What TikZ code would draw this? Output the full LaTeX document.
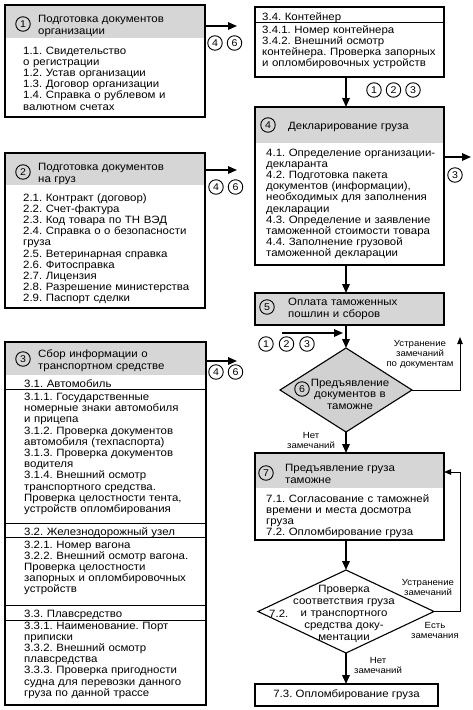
\documentclass[tikz,border=0pt]{standalone}
\usepackage{fontspec}
\setmainfont{Liberation Sans}[FakeStretch=1.08]
\frenchspacing
\usetikzlibrary{
  arrows.meta,
  positioning,
  shapes.geometric,
}
\tikzset{
  x=1pt,
  y=-1pt,
  node distance=5pt,
  >={Triangle[length=9pt, width=7.5pt]},
  panel/.style={draw, line width=1.1pt, anchor=north west, inner sep=0pt, outer sep=0pt},
  hd/.style={fill=black!16, anchor=north west, inner sep=0pt, outer sep=0pt},
  txt/.style={anchor=base west, inner sep=0pt, align=left, text width=200pt},
  hdtxt/.style={txt, font=\fontsize{10.6}{12}\selectfont},
  num/.style={circle, draw, line width=0.9pt, minimum size=14.5pt,
    inner sep=0pt, outer sep=0pt, font=\fontsize{9.8}{10}\selectfont},
  ask/.style={diamond, draw, line width=1.1pt, inner sep=0pt, outer sep=0pt},
  asktxt/.style={anchor=base, inner sep=0pt, align=center, text width=130pt},
  lbl/.style={anchor=base, inner sep=0pt, align=center, text width=80pt,
    font=\fontsize{8.9}{10}\selectfont},
  mainarr/.style={->, line width=1.6pt},
  backarr/.style={->, line width=0.9pt, >={Triangle[length=7pt, width=5.5pt]}},
  rowline/.style={line width=0.9pt},
}
\begin{document}
\begin{tikzpicture}[font=\fontsize{10.6}{11.2}\selectfont]
  \useasboundingbox (0,0) rectangle (473,710);
  %% shaded heads
  \node[hd, minimum width=200pt, minimum height=33pt](OrgHd) at (5,5) {};
  \node[hd, minimum width=200pt, minimum height=32pt](CargoHd) at (5,153) {};
  \node[hd, minimum width=201pt, minimum height=33pt](TransHd) at (5,342) {};
  \node[hd, minimum width=189pt, minimum height=36pt](DeclHd) at (255,107) {};
  \node[hd, minimum width=189pt, minimum height=32pt](PayHd) at (255,293) {};
  \node[hd, minimum width=189pt, minimum height=35pt](PresHd) at (255,453) {};
  %% frames
  \node[panel, minimum width=200pt, minimum height=112pt](Org) at (5,5) {};
  \node[panel, minimum width=200pt, minimum height=155pt](Cargo) at (5,153) {};
  \node[panel, minimum width=201pt, minimum height=363pt](Trans) at (5,342) {};
  \node[panel, minimum width=189pt, minimum height=70pt](Cont) at (255,7) {};
  \node[panel, minimum width=189pt, minimum height=158pt](Decl) at (255,107) {};
  \node[panel, minimum width=189pt, minimum height=32pt](Pay) at (255,293) {};
  \node[panel, minimum width=189pt, minimum height=87pt](Pres) at (255,453) {};
  \node[panel, anchor=center, minimum width=183pt, minimum height=22pt](Seal) at (346.5,695)
    {7.3. Опломбирование груза};
  \node[ask, fill=black!18, minimum width=132pt, minimum height=84pt](Doc) at (346,390) {};
  \node[ask, minimum width=176pt, minimum height=83pt](Chk) at (346,611.5) {};
  %% rows
  \draw[rowline] ([yshift=-15pt]Cont.north west) -- ([yshift=-15pt]Cont.north east);
  \foreach \d in {47,181,195,263,278}
    \draw[rowline] ([yshift=-\d pt]Trans.north west) -- ([yshift=-\d pt]Trans.north east);
  %% texts
  \node[num](n1) at (23,24) {1};
  \node[hdtxt](OrgTi) at (38,22) {Подготовка документов\\организации};
  \node[txt](OrgTx) at (23,54) {1.1. Свидетельство\\о регистрации\\1.2. Устав организации\\
    1.3. Договор организации\\1.4. Справка о рублевом и\\валютном счетах};
  \node[num](n2) at (23,172) {2};
  \node[hdtxt](CargoTi) at (38,170) {Подготовка документов\\на груз};
  \node[txt](CargoTx) at (23,201) {2.1. Контракт (договор)\\2.2. Счет-фактура\\
    2.3. Код товара по ТН ВЭД\\2.4. Справка о о безопасности\\груза\\
    2.5. Ветеринарная справка\\2.6. Фитосправка\\2.7. Лицензия\\
    2.8. Разрешение министерства\\2.9. Паспорт сделки};
  \node[num](n3) at (23,359) {3};
  \node[hdtxt](TransTi) at (38,357) {Сбор информации о\\транспортном средстве};
  \node[txt](CarTi) at (24,387) {3.1. Автомобиль};
  \node[txt](CarTx) at (24,400.5) {3.1.1. Государственные\\номерные знаки автомобиля\\
    и прицепа\\3.1.2. Проверка документов\\автомобиля (техпаспорта)\\
    3.1.3. Проверка документов\\водителя\\3.1.4. Внешний осмотр\\
    транспортного средства.\\Проверка целостности тента,\\устройств опломбирования};
  \node[txt](RailTi) at (24,535) {3.2. Железнодорожный узел};
  \node[txt](RailTx) at (24,548) {3.2.1. Номер вагона\\3.2.2. Внешний осмотр вагона.\\
    Проверка целостности\\запорных и опломбировочных\\устройств};
  \node[txt](ShipTi) at (24,617) {3.3. Плавсредство};
  \node[txt](ShipTx) at (24,629)
    {3.3.1. Наименование. Порт\\приписки\\3.3.2. Внешний осмотр\\плавсредства\\
    3.3.3. Проверка пригодности\\судна для перевозки данного\\груза по данной трассе};
  \node[txt](ContTi) at (262,20) {3.4. Контейнер};
  \node[txt](ContTx) at (262,33) {3.4.1. Номер контейнера\\3.4.2. Внешний осмотр\\
    контейнера. Проверка запорных\\и опломбировочных устройств};
  \node[num](n4) at (268,125) {4};
  \node[hdtxt](DeclTi) at (288,129) {Декларирование груза};
  \node[txt](DeclTx) at (266,156) {4.1. Определение организации-\\декларанта\\
    4.2. Подготовка пакета\\документов (информации),\\необходимых для заполнения\\
    декларации\\4.3. Определение и заявление\\таможенной стоимости товара\\
    4.4. Заполнение грузовой\\таможенной декларации};
  \node[num](n5) at (267,307) {5};
  \node[hdtxt](PayTi) at (288,305) {Оплата таможенных\\пошлин и сборов};
  \node[num](n6) at (302,389) {6};
  \node[asktxt, font=\fontsize{10.6}{11.5}\selectfont](DocTx) at (350,386)
    {Предъявление\\документов в\\таможне};
  \node[num](n7) at (266,473) {7};
  \node[hdtxt](PresTi) at (285,471) {Предъявление груза\\таможне};
  \node[txt](PresTx) at (266,502) {7.1. Согласование с таможней\\
    времени и места досмотра\\груза\\7.2. Опломбирование груза};
  \node[asktxt, font=\fontsize{10.6}{12}\selectfont](ChkTx) at (344,592)
    {Проверка\\соответствия груза\\и транспортного\\средства доку-\\ментации};
  \node[txt](ChkNo) at (269,617) {7.2.};
  %% outgoing arrows with circled refs
  \coordinate (OrgOut) at (237,26);
  \draw[mainarr](Org.east |- OrgOut) -- (OrgOut);
  \node[num](o4) at (215,43) {4};
  \node[num, right=of o4](o6) {6};
  \coordinate (CargoOut) at (237,170);
  \draw[mainarr](Cargo.east |- CargoOut) -- (CargoOut);
  \node[num](g4) at (216,187) {4};
  \node[num, right=of g4](g6) {6};
  \coordinate (TransOut) at (237,361);
  \draw[mainarr](Trans.east |- TransOut) -- (TransOut);
  \node[num](t4) at (216,372) {4};
  \node[num, right=of t4](t6) {6};
  \coordinate (DeclOut) at (471,157);
  \draw[mainarr](Decl.east |- DeclOut) -- (DeclOut);
  \node[num](d3) at (455,175) {3};
  %% main flow
  \draw[mainarr](Cont.south -| Doc.north) -- (Decl.north -| Doc.north);
  \node[num](k1) at (374,90) {1};
  \node[num, right=of k1](k2) {2};
  \node[num, right=of k2](k3) {3};
  \draw[mainarr](Decl.south -| Doc.north) -- (Pay.north -| Doc.north);
  \draw[mainarr](Pay.south -| Doc.north) -- (Doc.north);
  \coordinate (InS) at (282,333);
  \draw[mainarr, shorten >=3pt](InS) -- (InS -| Doc.north);
  \node[num](i1) at (266,344) {1};
  \node[num, right=6pt of i1](i2) {2};
  \node[num, right=6pt of i2](i3) {3};
  \draw[mainarr](Doc.south) -- (Pres.north -| Doc.south);
  \node[lbl](DocOk) at (311,438) {Нет\\замечаний};
  \draw[mainarr](Pres.south -| Chk.north) -- (Chk.north);
  \draw[mainarr](Chk.south) -- (Seal.north -| Chk.south);
  \node[lbl](ChkOk) at (378,663) {Нет\\замечаний};
  %% returns
  \coordinate (DocFix) at (460,337);
  \draw[backarr](Doc.east) -| (DocFix);
  \node[lbl](DocFixTx) at (420,346.5) {Устранение\\замечаний\\по документам};
  \coordinate (ChkFix) at (460,472);
  \draw[backarr](Chk.east) -| (ChkFix) -- (Pres.east |- ChkFix);
  \node[lbl](ChkFixTx) at (428,585) {Устранение\\замечаний};
  \node[lbl](ChkBad) at (435,628) {Есть\\замечания};
\end{tikzpicture}
\end{document}
